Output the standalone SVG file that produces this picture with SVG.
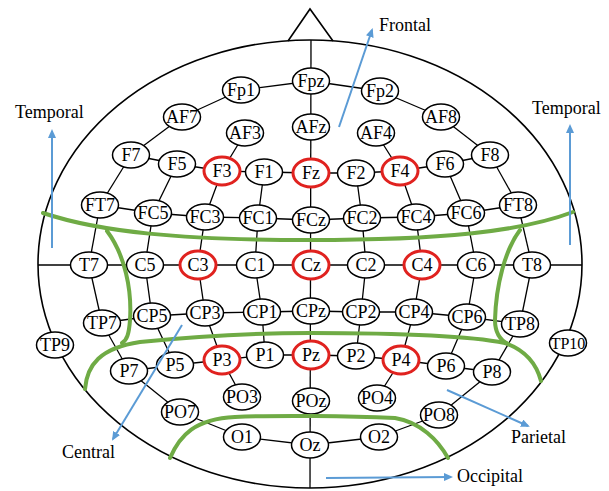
<svg xmlns="http://www.w3.org/2000/svg" width="609" height="491" viewBox="0 0 609 491">
<style>
.bg{fill:#fff}
.head{fill:none;stroke:#000;stroke-width:1.6}
.ln{stroke:#000;stroke-width:1.3;fill:none}
.nd ellipse{fill:#fff;stroke:#000;stroke-width:1.5}
.nd.red ellipse{stroke:#e0221f;stroke-width:3}
.nd text{font-family:"Liberation Serif","Times New Roman",serif;font-size:18px;text-anchor:middle;fill:#000}
.grn{fill:none;stroke:#6fab45;stroke-width:4;stroke-linecap:round}
.blu{fill:none;stroke:#5b9bd5;stroke-width:2;marker-end:url(#ah)}
.lbl{font-family:"Liberation Serif","Times New Roman",serif;font-size:18px;fill:#000}
</style>
<defs>
<marker id="ah" markerUnits="userSpaceOnUse" markerWidth="9" markerHeight="8" refX="7" refY="4" orient="auto">
<path d="M0,0 L9,4 L0,8 z" fill="#5b9bd5"/>
</marker>
</defs>
<rect class="bg" x="0" y="0" width="609" height="491"/>
<g id="head">
<ellipse class="head" cx="310" cy="264" rx="272" ry="224"/>
<polyline class="head" points="288,41 310,9 333,41"/>
</g>
<g id="connectors">
<line class="ln" x1="311" y1="40" x2="310" y2="488"/>
<line class="ln" x1="38" y1="265" x2="582" y2="265"/>
<line class="ln" x1="311" y1="81" x2="241" y2="90"/>
<line class="ln" x1="241" y1="90" x2="182" y2="117"/>
<line class="ln" x1="182" y1="117" x2="131" y2="155"/>
<line class="ln" x1="131" y1="155" x2="100" y2="205"/>
<line class="ln" x1="100" y1="205" x2="89" y2="265"/>
<line class="ln" x1="89" y1="265" x2="102" y2="323"/>
<line class="ln" x1="102" y1="323" x2="129" y2="371"/>
<line class="ln" x1="129" y1="371" x2="180" y2="412"/>
<line class="ln" x1="180" y1="412" x2="242" y2="437"/>
<line class="ln" x1="242" y1="437" x2="310" y2="445"/>
<line class="ln" x1="310" y1="445" x2="379" y2="437"/>
<line class="ln" x1="379" y1="437" x2="439" y2="415"/>
<line class="ln" x1="439" y1="415" x2="492" y2="372"/>
<line class="ln" x1="492" y1="372" x2="520" y2="324"/>
<line class="ln" x1="520" y1="324" x2="532" y2="265"/>
<line class="ln" x1="532" y1="265" x2="518" y2="205"/>
<line class="ln" x1="518" y1="205" x2="490" y2="155"/>
<line class="ln" x1="490" y1="155" x2="441" y2="117"/>
<line class="ln" x1="441" y1="117" x2="380" y2="91"/>
<line class="ln" x1="380" y1="91" x2="311" y2="81"/>
<polyline class="ln" points="131,155 177,164 222,171 264,172 311,173 356,173 400,171 445,164 490,155"/>
<polyline class="ln" points="100,205 153,213 205,217 258,218 311,220 362,218 416,217 466,213 518,205"/>
<polyline class="ln" points="102,323 152,316 205,313 262,312 311,311 361,312 414,312 467,317 520,324"/>
<polyline class="ln" points="129,371 175,365 222,360 265,355 311,355 356,356 401,360 446,366 492,372"/>
<polyline class="ln" points="245,133 222,171 205,217 198,265 205,313 222,360 242,397"/>
<polyline class="ln" points="376,133 400,171 416,217 422,265 414,312 401,360 377,398"/>
<polyline class="ln" points="177,164 153,213 145,265 152,316 175,365"/>
<polyline class="ln" points="445,164 466,213 476,265 467,317 446,366"/>
<polyline class="ln" points="264,172 258,218 255,265 262,312 265,355"/>
<polyline class="ln" points="356,173 362,218 366,265 361,312 356,356"/>
</g>
<g id="nodes">
<g id="Fpz" class="nd"><ellipse cx="311" cy="81" rx="18.5" ry="13"/><text x="311" y="87">Fpz</text></g>
<g id="Fp1" class="nd"><ellipse cx="241" cy="90" rx="18.5" ry="13"/><text x="241" y="96">Fp1</text></g>
<g id="Fp2" class="nd"><ellipse cx="380" cy="91" rx="18.5" ry="13"/><text x="380" y="97">Fp2</text></g>
<g id="AF7" class="nd"><ellipse cx="182" cy="117" rx="18.5" ry="13"/><text x="182" y="123">AF7</text></g>
<g id="AF3" class="nd"><ellipse cx="245" cy="133" rx="18.5" ry="13"/><text x="245" y="139">AF3</text></g>
<g id="AFz" class="nd"><ellipse cx="311" cy="127" rx="18.5" ry="13"/><text x="311" y="133">AFz</text></g>
<g id="AF4" class="nd"><ellipse cx="376" cy="133" rx="18.5" ry="13"/><text x="376" y="139">AF4</text></g>
<g id="AF8" class="nd"><ellipse cx="441" cy="117" rx="18.5" ry="13"/><text x="441" y="123">AF8</text></g>
<g id="F7" class="nd"><ellipse cx="131" cy="155" rx="18.5" ry="13"/><text x="131" y="161">F7</text></g>
<g id="F5" class="nd"><ellipse cx="177" cy="164" rx="18.5" ry="13"/><text x="177" y="170">F5</text></g>
<g id="F3" class="nd red"><ellipse cx="222" cy="171" rx="18" ry="14"/><text x="222" y="177">F3</text></g>
<g id="F1" class="nd"><ellipse cx="264" cy="172" rx="18.5" ry="13"/><text x="264" y="178">F1</text></g>
<g id="Fz" class="nd red"><ellipse cx="311" cy="173" rx="18" ry="14"/><text x="311" y="179">Fz</text></g>
<g id="F2" class="nd"><ellipse cx="356" cy="173" rx="18.5" ry="13"/><text x="356" y="179">F2</text></g>
<g id="F4" class="nd red"><ellipse cx="400" cy="171" rx="18" ry="14"/><text x="400" y="177">F4</text></g>
<g id="F6" class="nd"><ellipse cx="445" cy="164" rx="18.5" ry="13"/><text x="445" y="170">F6</text></g>
<g id="F8" class="nd"><ellipse cx="490" cy="155" rx="18.5" ry="13"/><text x="490" y="161">F8</text></g>
<g id="FT7" class="nd"><ellipse cx="100" cy="205" rx="18.5" ry="13"/><text x="100" y="211">FT7</text></g>
<g id="FC5" class="nd"><ellipse cx="153" cy="213" rx="18.5" ry="13"/><text x="153" y="219">FC5</text></g>
<g id="FC3" class="nd"><ellipse cx="205" cy="217" rx="18.5" ry="13"/><text x="205" y="223">FC3</text></g>
<g id="FC1" class="nd"><ellipse cx="258" cy="218" rx="18.5" ry="13"/><text x="258" y="224">FC1</text></g>
<g id="FCz" class="nd"><ellipse cx="311" cy="220" rx="18.5" ry="13"/><text x="311" y="226">FCz</text></g>
<g id="FC2" class="nd"><ellipse cx="362" cy="218" rx="18.5" ry="13"/><text x="362" y="224">FC2</text></g>
<g id="FC4" class="nd"><ellipse cx="416" cy="217" rx="18.5" ry="13"/><text x="416" y="223">FC4</text></g>
<g id="FC6" class="nd"><ellipse cx="466" cy="213" rx="18.5" ry="13"/><text x="466" y="219">FC6</text></g>
<g id="FT8" class="nd"><ellipse cx="518" cy="205" rx="18.5" ry="13"/><text x="518" y="211">FT8</text></g>
<g id="T7" class="nd"><ellipse cx="89" cy="265" rx="18.5" ry="13"/><text x="89" y="271">T7</text></g>
<g id="C5" class="nd"><ellipse cx="145" cy="265" rx="18.5" ry="13"/><text x="145" y="271">C5</text></g>
<g id="C3" class="nd red"><ellipse cx="198" cy="265" rx="18" ry="14"/><text x="198" y="271">C3</text></g>
<g id="C1" class="nd"><ellipse cx="255" cy="265" rx="18.5" ry="13"/><text x="255" y="271">C1</text></g>
<g id="Cz" class="nd red"><ellipse cx="311" cy="265" rx="18" ry="14"/><text x="311" y="271">Cz</text></g>
<g id="C2" class="nd"><ellipse cx="366" cy="265" rx="18.5" ry="13"/><text x="366" y="271">C2</text></g>
<g id="C4" class="nd red"><ellipse cx="422" cy="265" rx="18" ry="14"/><text x="422" y="271">C4</text></g>
<g id="C6" class="nd"><ellipse cx="476" cy="265" rx="18.5" ry="13"/><text x="476" y="271">C6</text></g>
<g id="T8" class="nd"><ellipse cx="532" cy="265" rx="18.5" ry="13"/><text x="532" y="271">T8</text></g>
<g id="TP7" class="nd"><ellipse cx="102" cy="323" rx="18.5" ry="13"/><text x="102" y="329">TP7</text></g>
<g id="CP5" class="nd"><ellipse cx="152" cy="316" rx="18.5" ry="13"/><text x="152" y="322">CP5</text></g>
<g id="CP3" class="nd"><ellipse cx="205" cy="313" rx="18.5" ry="13"/><text x="205" y="319">CP3</text></g>
<g id="CP1" class="nd"><ellipse cx="262" cy="312" rx="18.5" ry="13"/><text x="262" y="318">CP1</text></g>
<g id="CPz" class="nd"><ellipse cx="311" cy="311" rx="18.5" ry="13"/><text x="311" y="317">CPz</text></g>
<g id="CP2" class="nd"><ellipse cx="361" cy="312" rx="18.5" ry="13"/><text x="361" y="318">CP2</text></g>
<g id="CP4" class="nd"><ellipse cx="414" cy="312" rx="18.5" ry="13"/><text x="414" y="318">CP4</text></g>
<g id="CP6" class="nd"><ellipse cx="467" cy="317" rx="18.5" ry="13"/><text x="467" y="323">CP6</text></g>
<g id="TP8" class="nd"><ellipse cx="520" cy="324" rx="18.5" ry="13"/><text x="520" y="330">TP8</text></g>
<g id="TP9" class="nd"><ellipse cx="55" cy="345" rx="18.5" ry="13"/><text x="55" y="351">TP9</text></g>
<g id="TP10" class="nd"><ellipse cx="568" cy="343" rx="18.5" ry="13"/><text x="568" y="349" style="font-size:16px">TP10</text></g>
<g id="P7" class="nd"><ellipse cx="129" cy="371" rx="18.5" ry="13"/><text x="129" y="377">P7</text></g>
<g id="P5" class="nd"><ellipse cx="175" cy="365" rx="18.5" ry="13"/><text x="175" y="371">P5</text></g>
<g id="P3" class="nd red"><ellipse cx="222" cy="360" rx="18" ry="14"/><text x="222" y="366">P3</text></g>
<g id="P1" class="nd"><ellipse cx="265" cy="355" rx="18.5" ry="13"/><text x="265" y="361">P1</text></g>
<g id="Pz" class="nd red"><ellipse cx="311" cy="355" rx="18" ry="14"/><text x="311" y="361">Pz</text></g>
<g id="P2" class="nd"><ellipse cx="356" cy="356" rx="18.5" ry="13"/><text x="356" y="362">P2</text></g>
<g id="P4" class="nd red"><ellipse cx="401" cy="360" rx="18" ry="14"/><text x="401" y="366">P4</text></g>
<g id="P6" class="nd"><ellipse cx="446" cy="366" rx="18.5" ry="13"/><text x="446" y="372">P6</text></g>
<g id="P8" class="nd"><ellipse cx="492" cy="372" rx="18.5" ry="13"/><text x="492" y="378">P8</text></g>
<g id="PO7" class="nd"><ellipse cx="180" cy="412" rx="18.5" ry="13"/><text x="180" y="418">PO7</text></g>
<g id="PO3" class="nd"><ellipse cx="242" cy="397" rx="18.5" ry="13"/><text x="242" y="403">PO3</text></g>
<g id="POz" class="nd"><ellipse cx="311" cy="401" rx="18.5" ry="13"/><text x="311" y="407">POz</text></g>
<g id="PO4" class="nd"><ellipse cx="377" cy="398" rx="18.5" ry="13"/><text x="377" y="404">PO4</text></g>
<g id="PO8" class="nd"><ellipse cx="439" cy="415" rx="18.5" ry="13"/><text x="439" y="421">PO8</text></g>
<g id="O1" class="nd"><ellipse cx="242" cy="437" rx="18.5" ry="13"/><text x="242" y="443">O1</text></g>
<g id="Oz" class="nd"><ellipse cx="310" cy="445" rx="18.5" ry="13"/><text x="310" y="451">Oz</text></g>
<g id="O2" class="nd"><ellipse cx="379" cy="437" rx="18.5" ry="13"/><text x="379" y="443">O2</text></g>
</g>
<g id="regions">
<path class="grn" d="M43,213 C100,232 180,240 310,240 C440,240 520,232 573,212"/>
<path class="grn" d="M107,231 C125,255 132,290 130,320 C129,334 127,340 122,343"/>
<path class="grn" d="M520,230 C505,250 496,285 495,320 C495,333 500,340 508,344"/>
<path class="grn" d="M85,389 C87,365 100,348 140,342 C200,336 250,333 310,333 C390,333 470,336 505,343 C525,350 536,362 541,381"/>
<path class="grn" d="M170,458 C180,435 195,419 235,417 C280,415 350,416 395,418 C420,422 438,440 448,458"/>
</g>
<g id="arrows">
<line class="blu" x1="339" y1="127" x2="372" y2="30"/>
<line class="blu" x1="52" y1="248" x2="52" y2="131"/>
<line class="blu" x1="570" y1="245" x2="570" y2="126"/>
<line class="blu" x1="182" y1="325" x2="113" y2="439"/>
<line class="blu" x1="447" y1="390" x2="528" y2="426"/>
<line class="blu" x1="326" y1="478" x2="451" y2="477"/>
</g>
<g id="labels">
<text class="lbl" x="379" y="31">Frontal</text>
<text class="lbl" x="15" y="118">Temporal</text>
<text class="lbl" x="532" y="114">Temporal</text>
<text class="lbl" x="62" y="458">Central</text>
<text class="lbl" x="511" y="443">Parietal</text>
<text class="lbl" x="457" y="482">Occipital</text>
</g>
</svg>
